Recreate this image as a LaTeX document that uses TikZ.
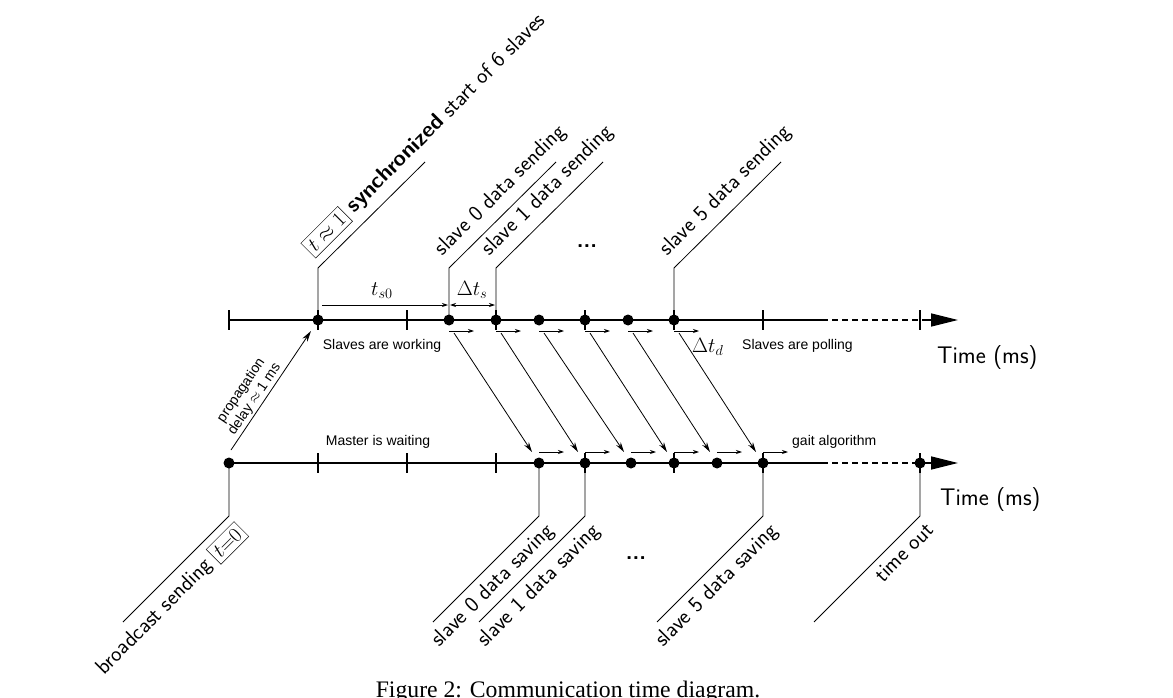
\documentclass[tikz,border=0pt]{standalone}
\usepackage{fontspec}
\newfontfamily\helv{Liberation Sans}
\newfontfamily\capfont{Liberation Serif}
\usetikzlibrary{arrows.meta}
\tikzset{
  axisline/.style={line width=1.4pt},
  axisdash/.style={line width=1.4pt,dash pattern=on 6pt off 4pt},
  axistip/.style={line width=1.4pt,-{Triangle[length=27pt,width=13pt]}},
  tickmark/.style={line width=1.1pt},
  dot/.style={circle,fill=black,draw=none,inner sep=0pt,minimum size=11pt},
  leader/.style={line width=0.8pt},
  stepar/.style={line width=0.9pt,-{Stealth[length=6pt,width=4pt]}},
  dimar/.style={line width=0.8pt,arrows={Stealth[length=6pt,width=4pt]-Stealth[length=6pt,width=4pt]}},
  msg/.style={line width=0.8pt,-{Stealth[length=10pt,width=5.5pt]}},
  prop/.style={line width=0.8pt,-{Stealth[length=11pt,width=6pt]}},
  toplab/.style={rotate=45,anchor=south west,inner sep=0pt,font=\fontsize{22}{26}\sffamily},
  botlab/.style={rotate=45,anchor=north east,inner sep=0pt,font=\fontsize{22}{26}\sffamily},
  note/.style={inner sep=0pt,anchor=base,font=\fontsize{14}{16}\helv},
  mlab/.style={inner sep=0pt,anchor=base,font=\fontsize{20}{24}\selectfont},
  timelab/.style={inner sep=0pt,anchor=base west,font=\fontsize{24}{28}\sffamily},
  dotslab/.style={inner sep=0pt,font=\fontsize{22}{26}\sffamily\bfseries},
  proplab/.style={rotate=56,align=center,inner sep=0pt,font=\fontsize{14}{16}\helv},
  capnode/.style={inner sep=0pt,anchor=base,font=\fontsize{23.7}{26}\capfont},
}
\setlength{\fboxsep}{3.5pt}
\setlength{\fboxrule}{0.5pt}
\begin{document}
\begin{tikzpicture}[x=1pt,y=-1pt]
\useasboundingbox (0,0) rectangle (1173,698);
% ---------- top axis (slaves)
\coordinate (TA) at (229,320);
\coordinate (TS) at (822,320);
\coordinate (TD) at (928,320);
\coordinate (TE) at (958,320);
\draw[axisline] (TA) -- (TS);
\draw[axisdash] (TS) -- (TD);
\draw[axistip] (TD) -- (TE);
\foreach \x in {229,318,407,496,585,674,763,920}
  \draw[tickmark] (\x,310) -- (\x,330);
\node[dot] (ts) at (318,320) {};
\node[dot] (s0) at (449,320) {};
\node[dot] (s1) at (496,320) {};
\node[dot] (s2) at (539,320) {};
\node[dot] (s3) at (585,320) {};
\node[dot] (s4) at (628,320) {};
\node[dot] (s5) at (674,320) {};
% ---------- bottom axis (master)
\coordinate (BA) at (229,463);
\coordinate (BS) at (822,463);
\coordinate (BD) at (928,463);
\coordinate (BE) at (958,463);
\draw[axisline] (BA) -- (BS);
\draw[axisdash] (BS) -- (BD);
\draw[axistip] (BD) -- (BE);
\foreach \x in {318,407,496,585,674,763,920}
  \draw[tickmark] (\x,453) -- (\x,473);
\node[dot] (mb) at (229,463) {};
\node[dot] (m0) at (539,463) {};
\node[dot] (m1) at (585,463) {};
\node[dot] (m2) at (631,463) {};
\node[dot] (m3) at (674,463) {};
\node[dot] (m4) at (717,463) {};
\node[dot] (m5) at (763,463) {};
\node[dot] (mto) at (920,463) {};
% ---------- top leaders and labels
\coordinate (tsK) at (318,268); \coordinate (tsE) at (425,162);
\coordinate (s0K) at (449,268); \coordinate (s0E) at (556,162);
\coordinate (s1K) at (496,268); \coordinate (s1E) at (603,162);
\coordinate (s5K) at (674,268); \coordinate (s5E) at (781,162);
\draw[leader] (ts.center) -- (tsK) -- (tsE);
\draw[leader] (s0.center) -- (s0K) -- (s0E);
\draw[leader] (s1.center) -- (s1K) -- (s1E);
\draw[leader] (s5.center) -- (s5K) -- (s5E);
\node[toplab] (Lsync) at (316,259) {\fbox{$t\approx1$}\ \textbf{synchronized} start of 6 slaves};
\node[toplab] (L0) at (446,260) {slave 0 data sending};
\node[toplab] (L1) at (493,260) {slave 1 data sending};
\node[toplab] (L5) at (671,260) {slave 5 data sending};
\node[dotslab] (tdots) at (587,246) {...};
% ---------- bottom leaders and labels
\coordinate (mbK) at (229,516); \coordinate (mbE) at (123,622);
\coordinate (m0K) at (539,516); \coordinate (m0E) at (433,622);
\coordinate (m1K) at (585,516); \coordinate (m1E) at (479,622);
\coordinate (m5K) at (763,516); \coordinate (m5E) at (657,622);
\coordinate (mtoK) at (920,516); \coordinate (mtoE) at (814,622);
\draw[leader] (mb.center) -- (mbK) -- (mbE);
\draw[leader] (m0.center) -- (m0K) -- (m0E);
\draw[leader] (m1.center) -- (m1K) -- (m1E);
\draw[leader] (m5.center) -- (m5K) -- (m5E);
\draw[leader] (mto.center) -- (mtoK) -- (mtoE);
\node[botlab] (Lbc) at (234,521) {broadcast sending\ \fbox{$t{=}0$}};
\node[botlab] (Lm0) at (544,521) {slave 0 data saving};
\node[botlab] (Lm1) at (590,521) {slave 1 data saving};
\node[botlab] (Lm5) at (768,521) {slave 5 data saving};
\node[botlab] (Lto) at (925,521) {time out};
\node[dotslab] (bdots) at (636,558) {...};
% ---------- small step arrows
\foreach \n in {s0,s1,s2,s3,s4,s5}
  \draw[stepar] ([shift={(0,11)}]\n.center) -- ++(25,0);
\foreach \n in {m0,m1,m2,m3,m4,m5}
  \draw[stepar] ([shift={(0,-11)}]\n.center) -- ++(25,0);
% ---------- messages slave -> master
\draw[msg] ([shift={(5,13)}]s0.center) -- ([shift={(-7,-11)}]m0.center);
\draw[msg] ([shift={(5,13)}]s1.center) -- ([shift={(-7,-11)}]m1.center);
\draw[msg] ([shift={(5,13)}]s2.center) -- ([shift={(-7,-11)}]m2.center);
\draw[msg] ([shift={(5,13)}]s3.center) -- ([shift={(-7,-11)}]m3.center);
\draw[msg] ([shift={(5,13)}]s4.center) -- ([shift={(-7,-11)}]m4.center);
\draw[msg] ([shift={(5,13)}]s5.center) -- ([shift={(-7,-11)}]m5.center);
% ---------- broadcast propagation
\draw[prop] ([shift={(2,-13)}]mb.center) -- ([shift={(-7,11)}]ts.center);
\node[proplab] (Lprop) at (248,395) {propagation\\delay $\approx$ 1 ms};
% ---------- dimensions
\draw[stepar] ([shift={(4,-15)}]ts.center) -- ([shift={(-1,-15)}]s0.center);
\draw[dimar] ([shift={(1,-15)}]s0.center) -- ([shift={(-1,-15)}]s1.center);
\node[mlab] (lts0) at (382,295) {$t_{s0}$};
\node[mlab] (ldts) at (472,295) {$\Delta t_s$};
\node[mlab,anchor=base west] (ldtd) at (692,352) {$\Delta t_d$};
% ---------- notes
\node[note] (nwork) at (382,349) {Slaves are working};
\node[note] (nwait) at (378,445) {Master is waiting};
\node[note,anchor=base west] (npoll) at (742,349) {Slaves are polling};
\node[note,anchor=base west] (ngait) at (792,445) {gait algorithm};
\node[timelab] (time1) at (937,363) {Time (ms)};
\node[timelab] (time2) at (940,505) {Time (ms)};
% ---------- caption
\node[capnode] (cap) at (568,697) {Figure 2: Communication time diagram.};
\end{tikzpicture}
\end{document}
